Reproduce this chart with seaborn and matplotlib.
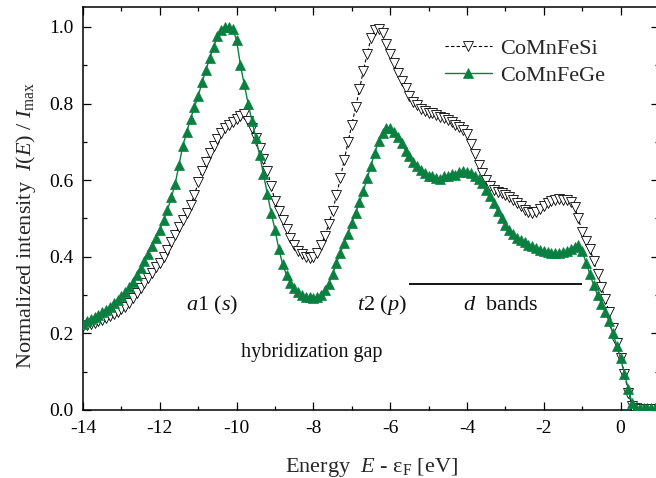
import numpy as np
import pandas as pd
import matplotlib
matplotlib.use("Agg")
import matplotlib.pyplot as plt
from matplotlib.ticker import MultipleLocator
import seaborn as sns

# ---------------- data ----------------
E_START, E_STOP, E_STEP = -14.0, 1.0, 0.1
energy = np.round(np.arange(E_START, E_STOP + E_STEP / 2, E_STEP), 2)

si_intensity = [
    0.218, 0.222, 0.225, 0.228, 0.232, 0.235, 0.240, 0.245, 0.250, 0.256,
    0.263, 0.270, 0.280, 0.292, 0.305, 0.318, 0.332, 0.345, 0.358, 0.372,
    0.385, 0.400, 0.418, 0.438, 0.458, 0.478, 0.496, 0.515, 0.536, 0.560,
    0.595, 0.625, 0.648, 0.672, 0.690, 0.708, 0.724, 0.735, 0.745, 0.752,
    0.760, 0.768, 0.772, 0.755, 0.735, 0.710, 0.685, 0.655, 0.625, 0.585,
    0.545, 0.520, 0.496, 0.472, 0.450, 0.430, 0.416, 0.406, 0.400, 0.397,
    0.400, 0.410, 0.430, 0.455, 0.485, 0.520, 0.560, 0.605, 0.652, 0.700,
    0.745, 0.790, 0.838, 0.885, 0.930, 0.970, 0.992, 0.995, 0.985, 0.955,
    0.930, 0.905, 0.880, 0.860, 0.840, 0.820, 0.805, 0.795, 0.787, 0.780,
    0.776, 0.775, 0.770, 0.766, 0.762, 0.758, 0.752, 0.745, 0.740, 0.732,
    0.720, 0.695, 0.668, 0.640, 0.618, 0.600, 0.584, 0.575, 0.570, 0.566,
    0.562, 0.556, 0.548, 0.540, 0.532, 0.523, 0.516, 0.514, 0.518, 0.525,
    0.532, 0.540, 0.546, 0.549, 0.550, 0.549, 0.547, 0.543, 0.530, 0.500,
    0.465, 0.440, 0.420, 0.390, 0.355, 0.322, 0.290, 0.255, 0.215, 0.175,
    0.135, 0.095, 0.045, 0.010, 0.004, 0.003, 0.003, 0.003, 0.003, 0.003,
    0.003,
]

ge_intensity = [
    0.225, 0.232, 0.238, 0.243, 0.248, 0.255, 0.262, 0.270, 0.279, 0.288,
    0.297, 0.308, 0.320, 0.335, 0.352, 0.370, 0.390, 0.408, 0.428, 0.448,
    0.470, 0.495, 0.522, 0.555, 0.590, 0.640, 0.690, 0.725, 0.760, 0.790,
    0.820, 0.855, 0.888, 0.918, 0.948, 0.975, 0.993, 1.000, 1.000, 0.995,
    0.965, 0.900, 0.850, 0.800, 0.755, 0.710, 0.665, 0.615, 0.565, 0.515,
    0.470, 0.420, 0.380, 0.352, 0.332, 0.318, 0.308, 0.300, 0.296, 0.294,
    0.293, 0.295, 0.300, 0.313, 0.330, 0.355, 0.383, 0.410, 0.435, 0.460,
    0.488, 0.515, 0.542, 0.572, 0.605, 0.638, 0.672, 0.702, 0.724, 0.735,
    0.737, 0.726, 0.712, 0.696, 0.677, 0.662, 0.648, 0.636, 0.626, 0.618,
    0.612, 0.610, 0.605, 0.604, 0.610, 0.612, 0.615, 0.614, 0.622, 0.624,
    0.620, 0.618, 0.612, 0.603, 0.592, 0.575, 0.558, 0.540, 0.520, 0.500,
    0.484, 0.470, 0.460, 0.450, 0.444, 0.438, 0.432, 0.427, 0.422, 0.418,
    0.415, 0.413, 0.411, 0.410, 0.410, 0.413, 0.415, 0.420, 0.425, 0.432,
    0.415, 0.385, 0.355, 0.325, 0.300, 0.278, 0.255, 0.232, 0.200, 0.168,
    0.135, 0.095, 0.055, 0.018, 0.006, 0.005, 0.005, 0.005, 0.005, 0.005,
    0.005,
]

series_names = ["CoMnFeSi", "CoMnFeGe"]
x_ticks = [-14, -12, -10, -8, -6, -4, -2, 0]
y_ticks = [0.0, 0.2, 0.4, 0.6, 0.8, 1.0]

annotations = [
    (r"$\it{a}$1 ($\it{s}$)", -10.64, 0.274, 16),
    (r"$\it{t}$2 ($\it{p}$)", -6.22, 0.274, 16),
    (r"$\it{d}$  bands", -3.12, 0.274, 16),
    ("hybridization gap", -8.04, 0.149, 14.5),
]
d_band_span = (-5.5, -1.0, 0.33)

df_si = pd.DataFrame({"E": energy, "I": si_intensity})
df_ge = pd.DataFrame({"E": energy, "I": ge_intensity})

# ---------------- style ----------------
sns.set_theme(style="ticks")
plt.rcParams["font.family"] = ["Liberation Serif", "DejaVu Serif"]
plt.rcParams["mathtext.fontset"] = "custom"
plt.rcParams["mathtext.rm"] = "Liberation Serif"
plt.rcParams["mathtext.it"] = "Liberation Serif:italic"
plt.rcParams["mathtext.bf"] = "Liberation Serif:bold"

fig = plt.figure(figsize=(6.56, 4.78), dpi=100)
ax = fig.add_axes([83 / 656, 1 - 410 / 478, (659 - 83) / 656, (410 - 7) / 478])

green = "#0a8040"

sns.lineplot(data=df_si, x="E", y="I", ax=ax, sort=False, estimator=None,
             color="black", linestyle=(0, (3, 2)), linewidth=0.8,
             marker="v", markersize=7.2, markerfacecolor="white",
             markeredgecolor="black", markeredgewidth=0.6,
             label=series_names[0], zorder=3)
sns.lineplot(data=df_ge, x="E", y="I", ax=ax, sort=False, estimator=None,
             color=green, linestyle="-", linewidth=1.0,
             marker="^", markersize=6.8, markerfacecolor=green,
             markeredgecolor=green, markeredgewidth=0.5,
             label=series_names[1], zorder=4)

ax.set_xlim(-14, 1)
ax.set_ylim(0, 1.052)
ax.set_xticks(x_ticks)
ax.set_yticks(y_ticks)
ax.set_xticklabels([f"{t}" for t in x_ticks])
ax.set_yticklabels([f"{t:.1f}" for t in y_ticks])
ax.xaxis.set_minor_locator(MultipleLocator(1))
ax.yaxis.set_minor_locator(MultipleLocator(0.1))
ax.tick_params(which="both", direction="in", top=True, right=True,
               colors="black", labelsize=14, width=0.9)
ax.tick_params(which="major", length=6, pad=7)
ax.tick_params(which="minor", length=3)
for sp in ax.spines.values():
    sp.set_linewidth(1.1)
    sp.set_color("black")
    sp.set_visible(True)

ax.set_xlabel(r"Energy  $\it{E}$ - ε$_\mathrm{F}$ [eV]", fontsize=16, labelpad=14)
ax.set_ylabel(r"Normalized intensity  $\it{I}$($\it{E}$) / $\it{I}_\mathrm{max}$",
              fontsize=16)
ax.yaxis.set_label_coords(-0.078, 0.459)

for txt, xe, yi, fs in annotations:
    ax.text(xe, yi, txt, ha="center", va="center", fontsize=fs, color="#111111")
ax.hlines(d_band_span[2], d_band_span[0], d_band_span[1], color="black", linewidth=1.3)

leg = ax.legend(loc="upper left", bbox_to_anchor=(0.613, 0.945), borderaxespad=0,
                frameon=False, fontsize=16, handlelength=2.1, numpoints=1,
                handletextpad=0.36, labelspacing=0.32)

fig.savefig("out.png", dpi=100)
